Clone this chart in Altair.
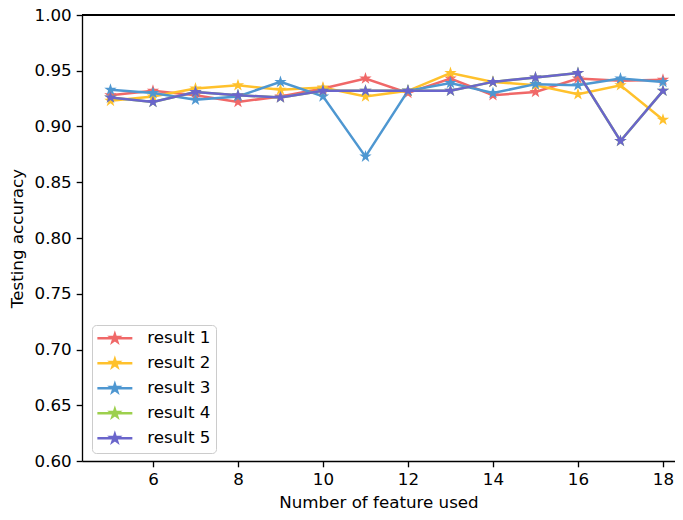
import math
import altair as alt
import pandas as pd

features = [5, 6, 7, 8, 9, 10, 11, 12, 13, 14, 15, 16, 17, 18]
result_1 = [0.928, 0.932, 0.928, 0.922, 0.927, 0.934, 0.943, 0.930, 0.943, 0.928, 0.931, 0.943, 0.941, 0.942]
result_2 = [0.923, 0.927, 0.934, 0.937, 0.933, 0.935, 0.927, 0.932, 0.948, 0.940, 0.937, 0.929, 0.937, 0.906]
result_3 = [0.933, 0.930, 0.924, 0.927, 0.940, 0.927, 0.873, 0.932, 0.939, 0.930, 0.938, 0.937, 0.943, 0.940]
result_4 = [0.926, 0.922, 0.931, 0.928, 0.926, 0.932, 0.932, 0.932, 0.932, 0.940, 0.944, 0.948, 0.887, 0.932]
result_5 = [0.926, 0.922, 0.931, 0.928, 0.926, 0.932, 0.932, 0.932, 0.932, 0.940, 0.944, 0.948, 0.887, 0.932]

series_names = ["result 1", "result 2", "result 3", "result 4", "result 5"]
series_values = [result_1, result_2, result_3, result_4, result_5]
colors = ["#F06868", "#FFC12C", "#4E97D1", "#9DD04D", "#6A65CB"]

y_ticks = [0.60, 0.65, 0.70, 0.75, 0.80, 0.85, 0.90, 0.95, 1.00]
x_ticks = [6, 8, 10, 12, 14, 16, 18]

rows = []
for name, vals in zip(series_names, series_values):
    for f, v in zip(features, vals):
        rows.append({"feature": f, "accuracy": v, "series": name})
df = pd.DataFrame(rows)

FONT = "DejaVu Sans"
FS = 16.7
W, H = 593, 446
PX_PER_X = 42.5
X0 = 4.33


def star_path(cx=0.0, r=1.0, ri=0.382):
    pts = []
    for k in range(10):
        ang = -math.pi / 2 + k * math.pi / 5
        rad = r if k % 2 == 0 else r * ri
        pts.append((cx + rad * math.cos(ang), rad * math.sin(ang)))
    return "M" + " L".join(f"{x:.4f},{y:.4f}" for x, y in pts) + " Z"


marker_path = star_path()
legend_path = "M-1.33,0 L4.5,0 " + star_path(cx=1.585, r=0.68)

color_scale = alt.Scale(domain=series_names, range=colors)
x_scale = alt.Scale(domain=[X0, X0 + W / PX_PER_X], nice=False, zero=False)
y_scale = alt.Scale(domain=[0.6, 1.0], nice=False, zero=False)

x_axis = alt.Axis(values=x_ticks, title="Number of feature used", grid=False,
                  tickSize=5.8, tickWidth=1.33, domainWidth=1.33, tickColor="black",
                  domainColor="black", labelFont=FONT, labelFontSize=FS, labelColor="black",
                  labelPadding=5, titleFont=FONT, titleFontSize=FS, titleFontWeight="normal",
                  titleColor="black", titlePadding=6, labelFlush=False)
y_axis = alt.Axis(values=y_ticks, format=".2f", title="Testing accuracy", grid=False,
                  tickSize=5.8, tickWidth=1.33, domainWidth=1.33, tickColor="black",
                  domainColor="black", labelFont=FONT, labelFontSize=FS, labelColor="black",
                  labelPadding=5, titleFont=FONT, titleFontSize=FS, titleFontWeight="normal",
                  titleColor="black", titlePadding=8, labelFlush=False)

legend = alt.Legend(title=None, orient="none", legendX=10, legendY=310,
                    symbolType=legend_path, symbolSize=144, symbolStrokeWidth=2.5,
                    labelFont=FONT, labelFontSize=FS, labelColor="black",
                    labelOffset=33.6, padding=5, rowPadding=6,
                    fillColor="white", strokeColor="#cccccc", cornerRadius=4,
                    labelExpr="datum.label + '  '")

layers = []
for i, name in enumerate(series_names):
    sub = alt.Chart(df).transform_filter(alt.datum.series == name)
    line = sub.mark_line(strokeWidth=2.5).encode(
        x=alt.X("feature:Q", scale=x_scale, axis=x_axis),
        y=alt.Y("accuracy:Q", scale=y_scale, axis=y_axis),
        color=alt.Color("series:N", scale=color_scale, legend=legend),
    )
    pts = sub.mark_point(shape=marker_path, filled=True, size=170, opacity=1).encode(
        x=alt.X("feature:Q", scale=x_scale, axis=x_axis),
        y=alt.Y("accuracy:Q", scale=y_scale, axis=y_axis),
        fill=alt.Fill("series:N", scale=color_scale, legend=legend),
    )
    layers += [line, pts]

top_border = alt.Chart(df).mark_rule(color="black", strokeWidth=1.33).encode(
    x=alt.value(0), x2=alt.value(W), y=alt.value(0)
)
layers.append(top_border)

chart = alt.layer(*layers).properties(
    width=W, height=H,
    autosize=alt.AutoSizeParams(type="none"),
    padding={"left": 74, "top": 7, "right": 0, "bottom": 51},
).configure_view(stroke=None).configure(background="white")

chart.save("out.html", embed_options={"renderer": "svg", "actions": False})
